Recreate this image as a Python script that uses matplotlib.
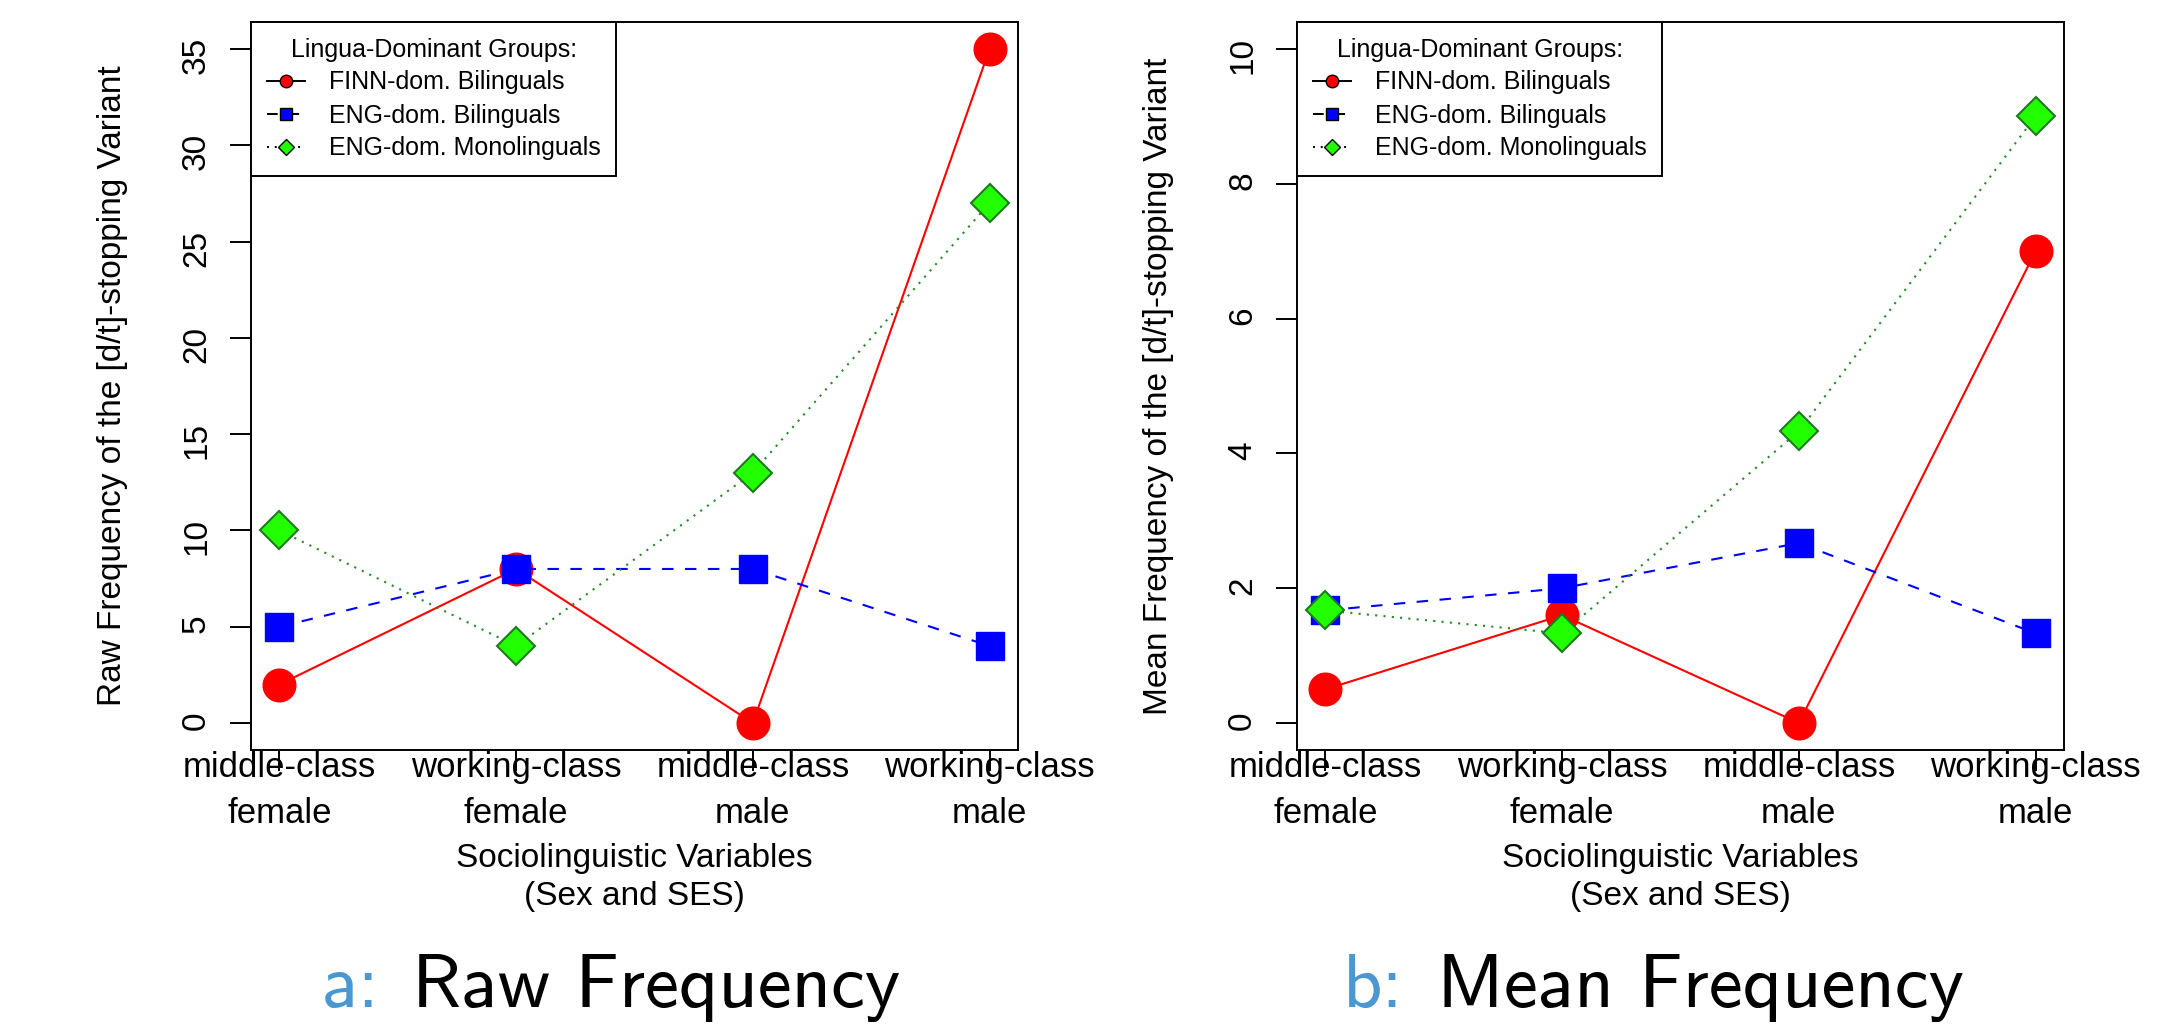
import matplotlib
matplotlib.use("Agg")
import matplotlib.pyplot as plt
from matplotlib.lines import Line2D

# ---------------- data ----------------
categories = ["middle-class\nfemale", "working-class\nfemale",
              "middle-class\nmale", "working-class\nmale"]
groups = ["FINN-dom. Bilinguals", "ENG-dom. Bilinguals", "ENG-dom. Monolinguals"]

raw_finn = [2, 8, 0, 35]
raw_engbi = [5, 8, 8, 4]
raw_mono = [10, 4, 13, 27]

mean_finn = [0.5, 1.6, 0, 7]
mean_engbi = [1.67, 2.0, 2.67, 1.33]
mean_mono = [1.67, 1.33, 4.33, 9.0]

raw_yticks = [0, 5, 10, 15, 20, 25, 30, 35]
mean_yticks = [0, 2, 4, 6, 8, 10]

xlabel = "Sociolinguistic Variables\n(Sex and SES)"
ylabel_raw = "Raw Frequency of the [d/t]-stopping Variant"
ylabel_mean = "Mean Frequency of the [d/t]-stopping Variant"
legend_title = "Lingua-Dominant Groups:"
caption_a = ("a:", "Raw Frequency")
caption_b = ("b:", "Mean Frequency")

# ---------------- style ----------------
plt.rcParams["font.family"] = ["Liberation Sans", "DejaVu Sans"]
W, H = 2177, 1030
fig = plt.figure(figsize=(W / 100, H / 100), dpi=100)

def px_axes(l, t, r, b):
    return fig.add_axes([l / W, 1 - b / H, (r - l) / W, (b - t) / H])

line_styles = ["-", (0, (5.5, 5.5)), (0, (1, 3))]
line_colors = ["#ff0000", "#0000ff", "#228b22"]
markers = ["o", "s", "D"]
fill_colors = ["#ff0000", "#0000ff", "#22ff00"]
edge_colors = ["#ff0000", "#0000ff", "#1f7a1f"]
big_ms = [23.5, 20, 19]
leg_ms = [9, 8, 8]

def draw_panel(ax, series, yticks, ylabel):
    x = list(range(1, len(categories) + 1))
    for i, vals in enumerate(series):
        ax.plot(x, vals, color=line_colors[i], lw=1.5, ls=line_styles[i],
                marker=markers[i], ms=big_ms[i], mfc=fill_colors[i],
                mec=edge_colors[i], mew=1.5 if i == 2 else 1.0, clip_on=False)
    ymax = max(yticks)
    ax.set_xlim(0.88, len(categories) + 0.12)
    ax.set_ylim(-0.04 * ymax, 1.04 * ymax)
    ax.set_xticks(x)
    ax.set_xticklabels(categories, linespacing=1.47)
    ax.set_yticks(yticks)
    ax.set_yticklabels([str(v) for v in yticks])
    for s in ax.spines.values():
        s.set_linewidth(1.4)
    ax.tick_params(axis="both", direction="out", length=15, width=1.4, colors="black")
    ax.tick_params(axis="x", labelsize=25, pad=-14)
    ax.tick_params(axis="y", labelsize=24, pad=13, labelrotation=90)
    ax.set_xlabel(xlabel, fontsize=24, linespacing=1.3)
    ax.xaxis.set_label_coords(0.5, -0.128)
    ax.set_ylabel(ylabel, fontsize=24)
    ax.yaxis.set_label_coords(-0.161, 0.5)

    handles = []
    for i in range(len(groups)):
        handles.append(Line2D([], [], color="black", lw=1.4, ls=line_styles[i],
                              marker=markers[i], ms=leg_ms[i], mfc=fill_colors[i],
                              mec="black", mew=1.0))
    leg = ax.legend(handles, groups, loc="upper left", bbox_to_anchor=(0, 1),
                    borderaxespad=0, fontsize=18, title=legend_title,
                    title_fontsize=18, fancybox=False, framealpha=1,
                    edgecolor="black", handlelength=1.55, handletextpad=0.95,
                    labelspacing=0.36, borderpad=0.62)
    leg.get_frame().set_linewidth(1.4)

ax1 = px_axes(251, 22, 1018, 750)
draw_panel(ax1, [raw_finn, raw_engbi, raw_mono], raw_yticks, ylabel_raw)
ax2 = px_axes(1297, 22, 2064, 750)
draw_panel(ax2, [mean_finn, mean_engbi, mean_mono], mean_yticks, ylabel_mean)

cap_blue = "#4a97d1"
yb = 1 - 1007 / H
fig.text(322 / W, yb, caption_a[0], color=cap_blue, fontsize=55, family="cmss10", va="baseline")
fig.text(412 / W, yb, caption_a[1], color="black", fontsize=55, family="cmss10", va="baseline")
fig.text(1343 / W, yb, caption_b[0], color=cap_blue, fontsize=55, family="cmss10", va="baseline")
fig.text(1437 / W, yb, caption_b[1], color="black", fontsize=55, family="cmss10", va="baseline")

fig.savefig("out.png", dpi=100, facecolor="white")
